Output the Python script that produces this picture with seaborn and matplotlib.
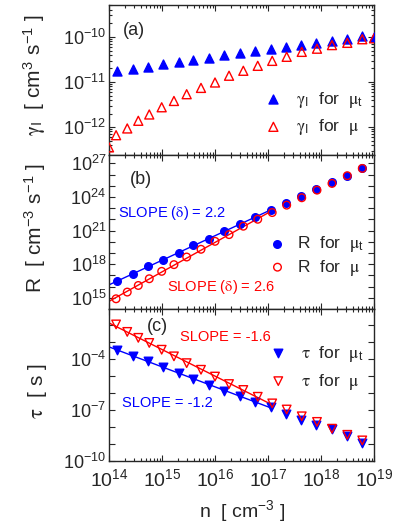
import numpy as np
import matplotlib
matplotlib.use("Agg")
import matplotlib.pyplot as plt
import matplotlib.ticker as mticker
import seaborn as sns

# values
# carrier density n [cm^-3], two grids (mu_t and mu series)
n_mut = [1.44e14, 2.88e14, 5.45e14, 1.06e15, 2.07e15, 3.9e15, 7.7e15, 1.5e16,
         2.96e16, 5.75e16, 1.12e17, 2.19e17, 4.25e17, 8.15e17, 1.61e18, 3.13e18, 6.0e18]
n_mu = [1.36e14, 2.21e14, 3.57e14, 5.75e14, 9.86e14, 1.68e15, 2.92e15, 5.44e15, 1.0e16,
        1.84e16, 3.42e16, 6.4e16, 1.2e17, 2.25e17, 4.33e17, 8.4e17, 1.61e18, 3.13e18, 6.0e18]

# panel (a): gamma_I, log10 values (extra points at the axis edges)
n_gam_mut = n_mut + [1.0e19]
gam_mut = [-10.75, -10.70, -10.66, -10.61, -10.56, -10.51, -10.47, -10.41, -10.36,
           -10.31, -10.27, -10.23, -10.18, -10.13, -10.08, -10.04, -9.985, -10.0]
n_gam_mu = [1.0e14] + n_mu + [1.0e19]
gam_mu = [-12.45, -12.18, -12.03, -11.86, -11.72, -11.56, -11.42, -11.27, -11.13, -11.01,
          -10.86, -10.75, -10.64, -10.53, -10.44, -10.33, -10.26, -10.18, -10.13, -10.05, -10.03]

# panel (b): R, log10 values
R_mut = [16.49, 17.15, 17.81, 18.37, 19.03, 19.69, 20.28, 20.94, 21.57, 22.22, 22.82,
         23.48, 24.10, 24.70, 25.30, 25.90, 26.55]
R_mu = [14.91, 15.51, 16.10, 16.70, 17.36, 17.96, 18.64, 19.33, 20.04, 20.64, 21.39,
        22.01, 22.61, 23.27, 23.93, 24.61, 25.21, 25.90, 26.55]

# panel (c): tau, log10 values
tau_mut = [-3.45, -3.84, -4.14, -4.48, -4.83, -5.15, -5.52, -5.86, -6.18, -6.53, -6.85,
           -7.21, -7.56, -7.86, -8.12, -8.51, -8.93]
tau_mu = [-1.96, -2.40, -2.75, -3.05, -3.45, -3.84, -4.24, -4.63, -5.03, -5.47, -5.82,
          -6.22, -6.61, -6.97, -7.37, -7.70, -8.10, -8.46, -8.79]

# labelled decades
gam_ticks = [-12, -11, -10]
R_ticks = [15, 18, 21, 24, 27]
tau_ticks = [-10, -7, -4]
n_ticks = [14, 15, 16, 17, 18, 19]

n_fit_max = 1.25e17  # slopes fitted below this density

sns.set_style("ticks")
plt.rcParams['font.family'] = ['Liberation Sans', 'DejaVu Sans']
plt.rcParams['mathtext.fontset'] = 'stix'
plt.rcParams['axes.linewidth'] = 1.0

BLUE = '#0000ff'
RED = '#ff0000'

fig = plt.figure(figsize=(4.04, 5.32), dpi=100)
ax_a = fig.add_axes([0.2698, 0.7086, 0.656, 0.2820])
ax_b = fig.add_axes([0.2698, 0.4192, 0.656, 0.2895])
ax_c = fig.add_axes([0.2698, 0.1335, 0.656, 0.2857])


def pts(ax, n, logy, marker, color, s, hollow, label):
    sns.scatterplot(x=n, y=10.0 ** np.array(logy), ax=ax, marker=marker, s=s,
                    color=color, edgecolor=color, linewidth=1.0, label=label, zorder=3)
    if hollow:
        ax.collections[-1].set_facecolor('none')


def fit_line(ax, n, logy, color):
    n = np.array(n)
    logy = np.array(logy)
    m = n <= n_fit_max
    k, b = np.polyfit(np.log10(n[m]), logy[m], 1)
    xs = np.array([1e14, n[m].max()])
    sns.lineplot(x=xs, y=10.0 ** (k * np.log10(xs) + b), ax=ax, color=color,
                 lw=1.0, estimator=None, zorder=2)
    return k


def gk(c):
    return r'$\mathrm{\%s}$' % c


def sub(t):
    return r'$_{\mathdefault{%s}}$' % t


def decades(e):
    return 10.0 ** np.array(e, dtype=float)


# (a)
pts(ax_a, n_gam_mut, gam_mut, '^', BLUE, 42, False, gk('gamma') + sub('I') + '  for  ' + gk('mu') + sub('t'))
pts(ax_a, n_gam_mu, gam_mu, '^', RED, 42, True, gk('gamma') + sub('I') + '  for  ' + gk('mu'))

# (b)
fit_line(ax_b, n_mut, R_mut, BLUE)
fit_line(ax_b, n_mu, R_mu, RED)
pts(ax_b, n_mut, R_mut, 'o', BLUE, 30, False, 'R  for  ' + gk('mu') + sub('t'))
pts(ax_b, n_mu, R_mu, 'o', RED, 30, True, 'R  for  ' + gk('mu'))

# (c)
fit_line(ax_c, n_mut, tau_mut, BLUE)
fit_line(ax_c, n_mu, tau_mu, RED)
pts(ax_c, n_mut, tau_mut, 'v', BLUE, 38, False, gk('tau') + '  for  ' + gk('mu') + sub('t'))
pts(ax_c, n_mu, tau_mu, 'v', RED, 38, True, gk('tau') + '  for  ' + gk('mu'))

for ax in (ax_a, ax_b, ax_c):
    ax.set_xscale('log')
    ax.set_yscale('log')
    ax.set_xlim(1e14, 1e19)
    ax.xaxis.set_major_locator(mticker.FixedLocator(decades(n_ticks)))
    ax.xaxis.set_major_formatter(mticker.LogFormatterSciNotation())
    ax.xaxis.set_minor_locator(mticker.LogLocator(base=10, subs=np.arange(2, 10), numticks=10))
    ax.xaxis.set_minor_formatter(mticker.NullFormatter())
    ax.yaxis.set_major_formatter(mticker.LogFormatterSciNotation())
    ax.yaxis.set_minor_formatter(mticker.NullFormatter())
    ax.tick_params(which='both', direction='in', top=True, right=True, width=0.8)
    ax.tick_params(which='major', length=4, pad=2)
    ax.tick_params(axis='y', labelsize=13)
    ax.tick_params(axis='x', labelsize=14)
    ax.tick_params(which='minor', length=2)
    ax.set_xlabel('')
    ax.set_ylabel('')

ax_a.set_ylim(10 ** -12.62, 10 ** -9.29)
ax_b.set_ylim(1e14, 10 ** 27.75)
ax_c.set_ylim(1e-10, 10 ** -1.05)

ax_a.tick_params(axis='x', labelbottom=False)
ax_b.tick_params(axis='x', labelbottom=False)
ax_c.tick_params(axis='x', pad=5)

# (a): decades labelled, small ticks in between
ax_a.yaxis.set_major_locator(mticker.FixedLocator(decades(gam_ticks)))
ax_a.yaxis.set_minor_locator(mticker.FixedLocator(
    np.concatenate([k * decades([-13, -12, -11, -10]) for k in range(2, 10)])))

# (b) and (c): a tick at every decade, a label every third one
for ax, lab, lo, hi in ((ax_b, R_ticks, 14, 28), (ax_c, tau_ticks, -10, -1)):
    ax.yaxis.set_major_locator(mticker.FixedLocator(decades(lab)))
    ax.yaxis.set_minor_locator(mticker.FixedLocator(decades(np.arange(lo, hi))))
    ax.tick_params(axis='y', which='minor', length=4)

# legends
leg_pos = {ax_a: (0.5875, 0.277, 0.8, 0.45), ax_b: (0.603, 0.344, 0.6, 0.2),
           ax_c: (0.606, 0.613, 0.8, 0.45)}
for ax, (lx, ly, tp, ls) in leg_pos.items():
    ax.legend(loc='center left', bbox_to_anchor=(lx, ly), frameon=False, fontsize=12.5,
              handlelength=1.0, handletextpad=tp, labelspacing=ls, borderpad=0,
              borderaxespad=0, scatterpoints=1)

# panel tags and slope notes
ax_a.text(0.053, 0.833, '(a)', transform=ax_a.transAxes, fontsize=13, va='center')
ax_b.text(0.079, 0.838, '(b)', transform=ax_b.transAxes, fontsize=13, va='center')
ax_c.text(0.143, 0.887, '(c)', transform=ax_c.transAxes, fontsize=13, va='center')
ax_b.text(0.034, 0.623, 'SLOPE (' + gk('delta') + ') = 2.2', transform=ax_b.transAxes,
          fontsize=10.5, color=BLUE, va='center')
ax_b.text(0.219, 0.143, 'SLOPE (' + gk('delta') + ') = 2.6', transform=ax_b.transAxes,
          fontsize=10.5, color=RED, va='center')
ax_c.text(0.268, 0.815, 'SLOPE = -1.6', transform=ax_c.transAxes, fontsize=10.5,
          color=RED, va='center')
ax_c.text(0.049, 0.384, 'SLOPE = -1.2', transform=ax_c.transAxes, fontsize=10.5,
          color=BLUE, va='center')

# axis titles
ax_a.text(-0.279, 0.533, gk('gamma') + sub('I') + r'  [ cm$^{\mathdefault{3}}$ s$^{\mathdefault{-1}}$ ]',
          transform=ax_a.transAxes, rotation=90, ha='center', va='center', fontsize=15)
ax_b.text(-0.279, 0.526, r'R  [ cm$^{\mathdefault{-3}}$ s$^{\mathdefault{-1}}$ ]',
          transform=ax_b.transAxes, rotation=90, ha='center', va='center', fontsize=15)
ax_c.text(-0.27, 0.457, gk('tau') + '  [ s ]', transform=ax_c.transAxes,
          rotation=90, ha='center', va='center', fontsize=15)
fig.text(0.600, 0.0376, r'n  [ cm$^{\mathdefault{-3}}$ ]', ha='center', va='center', fontsize=14)

fig.savefig('out.png', dpi=100)
